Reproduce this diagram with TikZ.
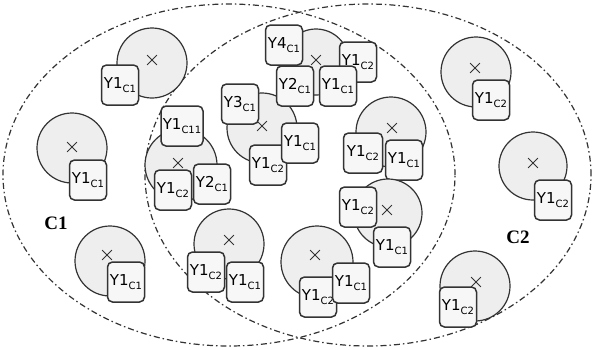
\documentclass[tikz,border=0pt]{standalone}
\usepackage{fontspec}
\setmainfont{DejaVu Sans}
\newfontfamily\zonefont{Liberation Serif}
\usetikzlibrary{shapes.geometric,shapes.misc}

% lowered index set in a smaller size
\newcommand\lowlab[1]{\raisebox{-3.5pt}{\fontsize{10}{10}\selectfont #1}}

\definecolor{inkgray}{HTML}{333333}
\definecolor{blobfill}{HTML}{EEEEEE}
\definecolor{tagfill}{HTML}{F7F7F7}

\begin{document}
\begin{tikzpicture}[x=1pt,y=-1pt,
  zone/.style={ellipse, draw=inkgray, line width=1.2pt,
    dash pattern=on 6pt off 3pt on 1.5pt off 3pt, inner sep=0pt},
  blob/.style={circle, draw=inkgray, fill=blobfill, line width=1.2pt,
    minimum size=70pt, inner sep=0pt},
  xmark/.style={cross out, draw=inkgray, line width=0.8pt,
    minimum size=9pt, inner sep=0pt},
  tag/.style={rectangle, rounded corners=5pt, draw=inkgray, fill=tagfill,
    line width=1.5pt, minimum width=37pt, minimum height=40pt, inner sep=0pt,
    font=\fontsize{15}{15}\selectfont},
  zonelabel/.style={font=\zonefont\bfseries\fontsize{19}{19}\selectfont, inner sep=0pt}]

\fill[white] (0,0) rectangle (594,349);
\useasboundingbox (0,0) rectangle (594,349);

% the two clusters
\node[zone, minimum width=452pt, minimum height=342pt] (zoneA) at (229,175) {};
\node[zone, minimum width=446pt, minimum height=342pt] (zoneB) at (368,175) {};
\node[zonelabel] (labA) at (56,223) {C1};
\node[zonelabel] (labB) at (518,237) {C2};

% top left
\node[blob] (a) at (152,63) {};
\node[xmark] (ax) at (152,60) {};
\node[tag] (a1) at (120,85) {Υ1\lowlab{C1}};

% left
\node[blob] (b) at (72,148) {};
\node[xmark] (bx) at (72,147) {};
\node[tag] (b1) at (88,180) {Υ1\lowlab{C1}};

% bottom left
\node[blob] (c) at (110,261) {};
\node[xmark] (cx) at (107,255) {};
\node[tag] (c1) at (126,282) {Υ1\lowlab{C1}};

% centre left
\node[blob, minimum size=72pt] (d) at (181,165) {};
\node[xmark] (dx) at (178,163) {};
\node[tag, minimum width=42pt] (d1) at (182,126) {Υ1\lowlab{C11}};
\node[tag] (d2) at (212,184) {Υ2\lowlab{C1}};
\node[tag] (d3) at (173,190) {Υ1\lowlab{C2}};

% centre
\node[blob] (e) at (262,128) {};
\node[xmark] (ex) at (262,126) {};
\node[tag] (e1) at (240,104) {Υ3\lowlab{C1}};
\node[tag] (e3) at (268,165) {Υ1\lowlab{C2}};
\node[tag] (e2) at (300,143) {Υ1\lowlab{C1}};

% top centre
\node[blob, minimum size=66pt] (f) at (316,62) {};
\node[xmark] (fx) at (316,60) {};
\node[tag] (f1) at (284,45) {Υ4\lowlab{C1}};
\node[tag] (f2) at (358,62) {Υ1\lowlab{C2}};
\node[tag] (f3) at (295,86) {Υ2\lowlab{C1}};
\node[tag] (f4) at (338,86) {Υ1\lowlab{C1}};

% right of the overlap, upper
\node[blob] (g) at (391,132) {};
\node[xmark] (gx) at (392,128) {};
\node[tag, minimum width=39pt] (g1) at (363,153) {Υ1\lowlab{C2}};
\node[tag] (g2) at (404,160) {Υ1\lowlab{C1}};

% right of the overlap, lower
\node[blob, minimum size=68pt] (h) at (388,213) {};
\node[xmark] (hx) at (387,210) {};
\node[tag] (h1) at (358,207) {Υ1\lowlab{C2}};
\node[tag] (h2) at (392,247) {Υ1\lowlab{C1}};

% bottom centre left
\node[blob] (i) at (229,244) {};
\node[xmark] (ix) at (229,240) {};
\node[tag] (i1) at (206,272) {Υ1\lowlab{C2}};
\node[tag] (i2) at (245,282) {Υ1\lowlab{C1}};

% bottom centre
\node[blob, minimum size=72pt] (j) at (317,262) {};
\node[xmark] (jx) at (315,255) {};
\node[tag] (j1) at (318,297) {Υ1\lowlab{C2}};
\node[tag] (j2) at (351,283) {Υ1\lowlab{C1}};

% top right
\node[blob] (k) at (476,72) {};
\node[xmark] (kx) at (475,68) {};
\node[tag] (k1) at (491,100) {Υ1\lowlab{C2}};

% right
\node[blob, minimum size=68pt] (l) at (533,166) {};
\node[xmark] (lx) at (533,163) {};
\node[tag] (l1) at (553,200) {Υ1\lowlab{C2}};

% bottom right
\node[blob] (m) at (475,286) {};
\node[xmark] (mx) at (476,282) {};
\node[tag] (m1) at (458,307) {Υ1\lowlab{C2}};

\end{tikzpicture}
\end{document}
